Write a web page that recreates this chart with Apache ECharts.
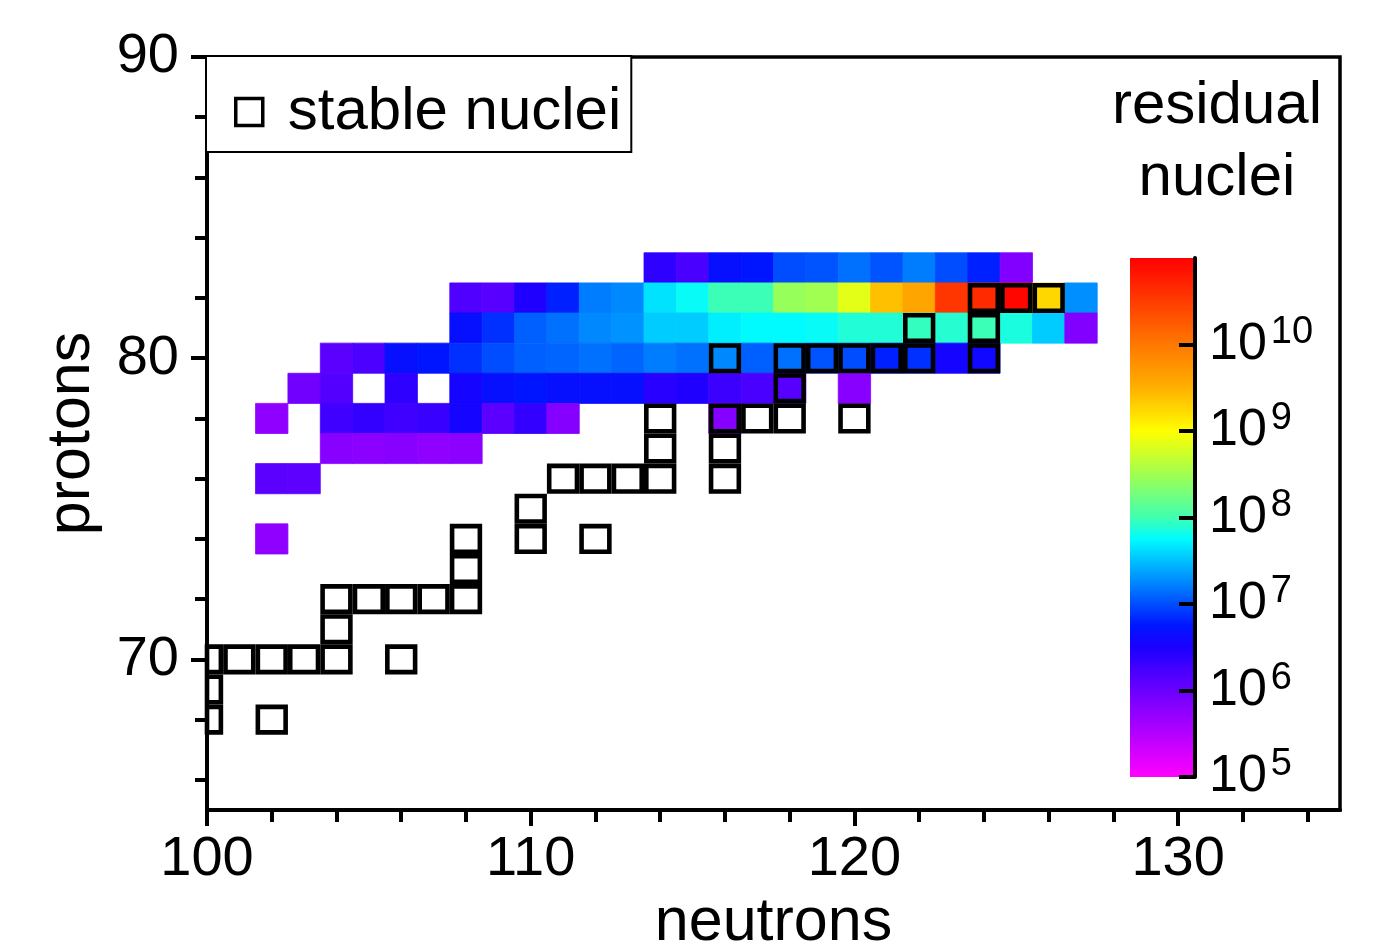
<!DOCTYPE html>
<html lang="en">
<head>
<meta charset="UTF-8">
<title>residual nuclei</title>
<style>
  * { margin: 0; padding: 0; }
  #main { width: 1382px; height: 945px; background: #fff; }
</style>
</head>
<body>
<div id="main"></div>
<script src="https://cdn.jsdelivr.net/npm/echarts@6/dist/echarts.min.js"></script>
<script>
// stable nuclei (neutron number N, proton number Z)
const stableN = [100, 102, 100, 100, 101, 102, 103, 104, 106, 104, 104, 105, 106, 107, 108, 108, 108, 110, 112, 110,
                 111, 112, 113, 114, 116, 114, 116, 114, 116, 117, 118, 120, 118, 116, 118, 119, 120, 121, 122, 124,
                 122, 124, 124, 125, 126];
const stableZ = [68, 68, 69, 70, 70, 70, 70, 70, 70, 71, 72, 72, 72, 72, 72, 73, 74, 74, 74, 75,
                 76, 76, 76, 76, 76, 77, 77, 78, 78, 78, 78, 78, 79, 80, 80, 80, 80, 80, 80, 80,
                 81, 81, 82, 82, 82];

// residual nuclei: log10 of the yield, one row per proton number, starting at rowFirstN
const rowZ = [83, 82, 81, 80, 79, 78, 77, 76, 74];
const rowFirstN = [114, 108, 108, 104, 103, 102, 104, 102, 102];
const logYieldZ83 = [6.38, 6.22, 6.68, 6.75, 7.0, 7.03, 7.15, 7.03, 7.2, 7.0, 6.8, 5.85];
const logYieldZ82 = [6.18, 6.12, 6.47, 6.8, 7.2, 7.25, 7.65, 7.78, 7.98, 7.98, 8.45, 8.5, 8.85, 9.4, 9.6, 10.55, 10.65, 10.95, 9.25, 7.28];
const logYieldZ81 = [6.68, 6.87, 7.08, 7.15, 7.25, 7.3, 7.55, 7.55, 7.7, 7.75, 7.75, 7.78, 7.88, 7.88, 7.95, 7.9, 7.98, 7.85, 7.55, 5.85];
const logYieldZ80 = [6.1, 6.2, 6.68, 6.75, 6.87, 7.0, 7.08, 7.1, 7.15, 7.1, 7.2, 7.15, 7.25, 7.08, 7.15, 7.03, 7.0, 6.8, 6.87, 6.55, 6.6];
const logYieldZ79 = [5.95, 6.15, null, 6.38, null, 6.55, 6.68, 6.75, 6.68, 6.68, 6.68, 6.42, 6.47, 6.3, 6.22, 6.12, null, 5.8];
const logYieldZ78 = [5.75, null, 6.28, 6.35, 6.28, 6.32, 6.55, 6.1, 6.35, 5.82, null, null, null, null, 5.82];
const logYieldZ77 = [5.8, 5.78, 5.8, 5.75, 5.78];
const logYieldZ76 = [6.1, 6.08];
const logYieldZ74 = [5.75];
const rowLogYield = [logYieldZ83, logYieldZ82, logYieldZ81, logYieldZ80, logYieldZ79,
                     logYieldZ78, logYieldZ77, logYieldZ76, logYieldZ74];

// ticks and labels
const xTicks = [100, 102, 104, 106, 108, 110, 112, 114, 116, 118, 120, 122, 124, 126, 128, 130, 132, 134];
const xMajor = [100, 110, 120, 130];
const yTicks = [66, 68, 70, 72, 74, 76, 78, 80, 82, 84, 86, 88, 90];
const yMajor = [70, 80, 90];
const cbTicks = [5, 6, 7, 8, 9, 10];   // exponents of the colour bar
const cbMin = 5, cbMax = 11;
// rainbow palette, evenly spaced from 10^5 to 10^11
const cbColors = ['#ff00ff', '#d900ff', '#b300ff', '#9000ff', '#6a00ff', '#4400ff', '#1a00ff', '#0015ff',
                  '#004dff', '#0088ff', '#00c0ff', '#00fbff', '#40ffb0', '#70ff80', '#a0ff50', '#d0ff28',
                  '#ffff00', '#ffd700', '#ffb000', '#ff9400', '#ff7800', '#ff5a00', '#ff3c00', '#ff1e00', '#ff0000'];

const FONT = '"Liberation Sans", Arial, sans-serif';

const heatData = [];
rowZ.forEach(function (z, i) {
    rowLogYield[i].forEach(function (v, k) {
        if (v !== null) heatData.push([rowFirstN[i] + k, z, v]);
    });
});
const stableData = stableN.map(function (n, i) { return [n, stableZ[i]]; });

function cellRect(params, api, inset) {
    const p0 = api.coord([api.value(0) - 0.5, api.value(1) + 0.5]);
    const p1 = api.coord([api.value(0) + 0.5, api.value(1) - 0.5]);
    const cs = params.coordSys;
    return echarts.graphic.clipRectByRect({
        x: p0[0] + inset,
        y: p0[1] + inset,
        width: p1[0] - p0[0] - 2 * inset,
        height: p1[1] - p0[1] - 2 * inset
    }, { x: cs.x, y: cs.y, width: cs.width, height: cs.height });
}

let myChart = echarts.init(document.getElementById('main'));
let option = {
    backgroundColor: '#fff',
    animation: false,
    grid: [
        { left: 207, top: 57, right: 42, bottom: 135, outerBoundsMode: 'none', containLabel: false,
          show: true, borderColor: '#000', borderWidth: 3.5 },
        { left: 1130, top: 258, width: 65, height: 519, outerBoundsMode: 'none', containLabel: false }
    ],
    xAxis: [{
        type: 'value', gridIndex: 0, position: 'bottom', min: 100, max: 135,
        name: 'neutrons', nameLocation: 'middle', nameGap: 75,
        nameTextStyle: { fontSize: 61, fontFamily: FONT, color: '#000' },
        axisLine: { show: true, onZero: false, lineStyle: { color: '#000', width: 4 } },
        axisTick: { show: true, customValues: xTicks, length: 12, lineStyle: { color: '#000', width: 4 } },
        axisLabel: { customValues: xMajor, fontSize: 56, fontFamily: FONT, color: '#000', margin: 22 },
        splitLine: { show: false }
    }, {
        type: 'value', gridIndex: 0, position: 'bottom', min: 100, max: 135, offset: 0,
        axisLine: { show: false, onZero: false },
        axisTick: { show: true, customValues: xMajor, length: 16, lineStyle: { color: '#000', width: 4 } },
        axisLabel: { show: false },
        splitLine: { show: false }
    }, {
        type: 'value', gridIndex: 1, min: 0, max: 1, show: false
    }],
    yAxis: [{
        type: 'value', gridIndex: 0, position: 'left', min: 65, max: 90,
        name: 'protons', nameLocation: 'middle', nameGap: 104,
        nameTextStyle: { fontSize: 61, fontFamily: FONT, color: '#000' },
        axisLine: { show: true, onZero: false, lineStyle: { color: '#000', width: 4 } },
        axisTick: { show: true, customValues: yTicks, length: 12, lineStyle: { color: '#000', width: 4 } },
        axisLabel: { customValues: yMajor, fontSize: 56, fontFamily: FONT, color: '#000', margin: 28 },
        splitLine: { show: false }
    }, {
        type: 'value', gridIndex: 0, position: 'left', min: 65, max: 90, offset: 0,
        axisLine: { show: false, onZero: false },
        axisTick: { show: true, customValues: yMajor, length: 16, lineStyle: { color: '#000', width: 4 } },
        axisLabel: { show: false },
        splitLine: { show: false }
    }, {
        type: 'value', gridIndex: 1, position: 'right', min: cbMin, max: cbMax, z: 10,
        axisLine: { show: true, onZero: false, lineStyle: { color: '#000', width: 4 } },
        axisTick: { show: true, inside: true, customValues: cbTicks, length: 16, lineStyle: { color: '#000', width: 4 } },
        axisLabel: {
            customValues: cbTicks, margin: 14, color: '#000',
            formatter: function (v) { return '{b|10}{s|' + v + '}'; },
            rich: {
                b: { fontSize: 52, fontFamily: FONT, color: '#000' },
                s: { fontSize: 38, fontFamily: FONT, color: '#000', verticalAlign: 'top', padding: [0, 0, 24, 4] }
            }
        },
        splitLine: { show: false }
    }],
    visualMap: {
        type: 'continuous', show: false, seriesIndex: 0, dimension: 2,
        min: cbMin, max: cbMax, inRange: { color: cbColors }
    },
    legend: {
        left: 206, top: 56,
        padding: [26, 10, 10, 28],
        borderColor: '#000', borderWidth: 2, backgroundColor: '#fff',
        itemWidth: 27, itemHeight: 27, selectedMode: false,
        data: [{
            name: 'stable nuclei', icon: 'rect',
            itemStyle: { color: 'rgba(0,0,0,0)', borderColor: '#000', borderWidth: 3.5 }
        }],
        textStyle: { fontSize: 60, fontFamily: FONT, color: '#000', lineHeight: 60, padding: [0, 0, 0, 20] }
    },
    graphic: [{
        type: 'text', x: 1217, y: 70,
        style: {
            text: 'residual\nnuclei', align: 'center', verticalAlign: 'top',
            fontSize: 60, lineHeight: 72, fontFamily: FONT, fill: '#000'
        }
    }],
    series: [{
        name: 'residual nuclei',
        type: 'custom',
        xAxisIndex: 0, yAxisIndex: 0, z: 2,
        encode: { x: 0, y: 1 },
        renderItem: function (params, api) {
            const r = cellRect(params, api, 0);
            if (!r) return;
            const c = api.visual('color');
            return { type: 'rect', shape: r, style: { fill: c, stroke: c, lineWidth: 0.8 } };
        },
        data: heatData
    }, {
        name: 'stable nuclei',
        type: 'custom',
        xAxisIndex: 0, yAxisIndex: 0, z: 3,
        encode: { x: 0, y: 1 },
        renderItem: function (params, api) {
            const r = cellRect(params, api, 2.3);
            if (!r) return;
            return { type: 'rect', shape: r, style: { fill: null, stroke: '#000', lineWidth: 4.6 } };
        },
        data: stableData
    }, {
        name: 'colour bar',
        type: 'custom',
        xAxisIndex: 2, yAxisIndex: 2, z: 1,
        renderItem: function (params, api) {
            const p0 = api.coord([api.value(0), api.value(3)]);
            const p1 = api.coord([api.value(2), api.value(1)]);
            const stops = cbColors.map(function (c, i) {
                return { offset: i / (cbColors.length - 1), color: c };
            });
            return {
                type: 'rect',
                shape: { x: p0[0], y: p0[1], width: p1[0] - p0[0], height: p1[1] - p0[1] },
                style: { fill: new echarts.graphic.LinearGradient(0, 1, 0, 0, stops) }
            };
        },
        data: [[0, cbMin, 1, cbMax]]
    }]
};
myChart.setOption(option);
</script>
</body>
</html>
